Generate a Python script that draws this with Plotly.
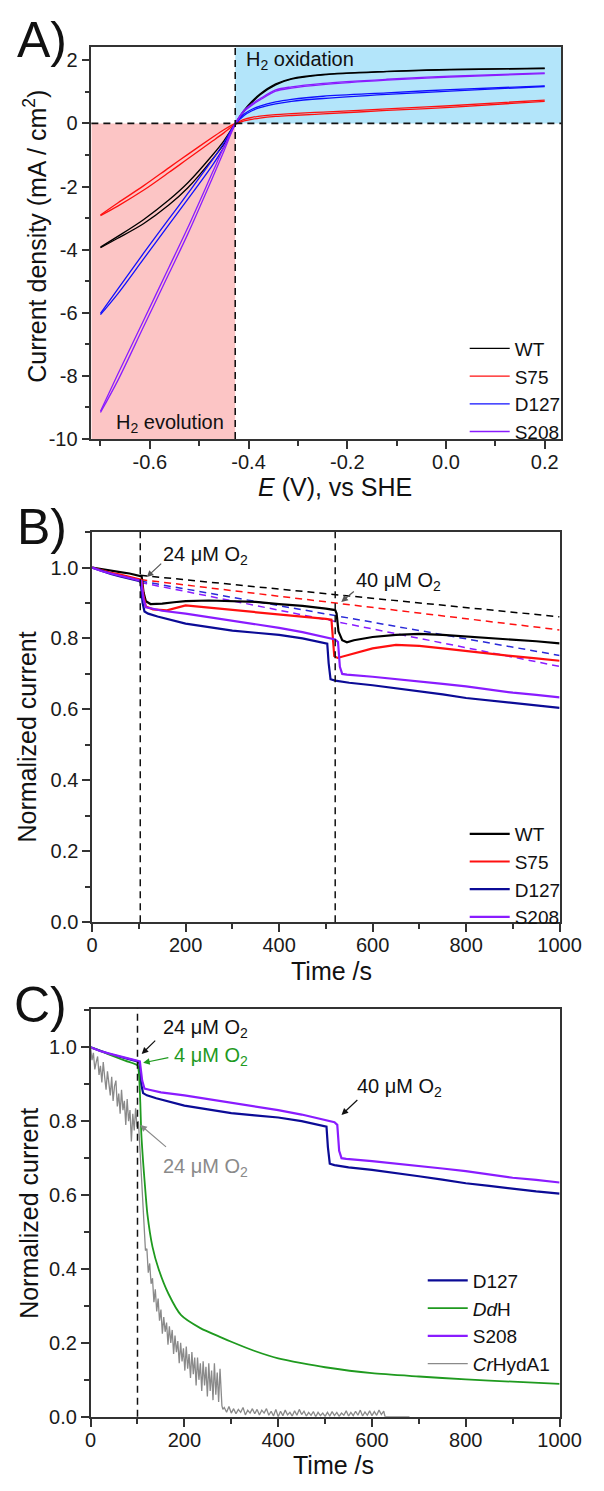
import plotly.graph_objects as go

FONT = "Liberation Sans, Arial, sans-serif"

# ---------------- Panel A: cyclic voltammograms ----------------
E_V = [-0.70, -0.665, -0.613, -0.561, -0.523, -0.473, -0.45, -0.427, -0.409, -0.393,
       -0.377, -0.345, -0.313, -0.249, -0.12, 0.008, 0.20]
WT_UP = [-3.92, -3.58, -3.05, -2.42, -1.88, -1.00, -0.55, 0.0, 0.42, 0.70, 0.93, 1.25, 1.42, 1.55, 1.65, 1.71, 1.75]
WT_LO = [-3.94, -3.64, -3.18, -2.58, -2.04, -1.13, -0.66, -0.03, 0.38, 0.66, 0.90, 1.22, 1.40, 1.54, 1.64, 1.70, 1.74]
S75_UP = [-2.90, -2.52, -1.98, -1.40, -0.98, -0.44, -0.20, 0.0, 0.13, 0.19, 0.23, 0.28, 0.31, 0.36, 0.46, 0.56, 0.74]
S75_LO = [-2.92, -2.62, -2.12, -1.55, -1.12, -0.56, -0.30, -0.03, 0.08, 0.13, 0.17, 0.22, 0.25, 0.30, 0.41, 0.51, 0.70]
D127_UP = [-6.02, -5.25, -4.12, -3.02, -2.22, -1.15, -0.62, 0.0, 0.30, 0.45, 0.55, 0.68, 0.76, 0.86, 0.97, 1.07, 1.19]
D127_LO = [-6.06, -5.40, -4.30, -3.20, -2.40, -1.32, -0.75, -0.03, 0.25, 0.40, 0.50, 0.62, 0.70, 0.79, 0.92, 1.02, 1.17]
S208_UP = [-9.12, -7.95, -6.25, -4.55, -3.30, -1.55, -0.75, 0.0, 0.42, 0.62, 0.78, 1.06, 1.16, 1.27, 1.40, 1.50, 1.60]
S208_LO = [-9.16, -8.15, -6.45, -4.75, -3.50, -1.72, -0.88, -0.03, 0.38, 0.58, 0.74, 1.02, 1.12, 1.23, 1.37, 1.47, 1.58]
E_ZERO = -0.427

A_XTICKS = [-0.6, -0.4, -0.2, 0.0, 0.2]
A_XTEXT = ["-0.6", "-0.4", "-0.2", "0.0", "0.2"]
A_YTICKS = [2, 0, -2, -4, -6, -8, -10]
A_YTEXT = ["2", "0", "-2", "-4", "-6", "-8", "-10"]

# ---------------- Panel B / C: chronoamperometry ----------------
WT_T = [0, 20, 40, 60, 80, 100, 106, 110, 115, 125, 150, 175, 200, 250, 300, 350, 400, 450, 500, 520,
        523, 527, 535, 545, 560, 600, 650, 700, 750, 800, 850, 900, 950, 1000]
WT_I = [1.0, 0.995, 0.99, 0.987, 0.983, 0.978, 0.975, 0.93, 0.905, 0.897, 0.898, 0.902, 0.905, 0.907,
        0.906, 0.903, 0.897, 0.892, 0.884, 0.880, 0.87, 0.82, 0.795, 0.789, 0.795, 0.804, 0.81, 0.813,
        0.81, 0.806, 0.801, 0.797, 0.792, 0.786]
S75_T = [0, 20, 40, 60, 80, 100, 106, 110, 115, 130, 160, 200, 250, 300, 350, 400, 450, 500, 512, 515,
         518, 525, 540, 560, 600, 650, 700, 750, 800, 850, 900, 950, 1000]
S75_I = [1.0, 0.992, 0.985, 0.98, 0.973, 0.968, 0.965, 0.92, 0.89, 0.882, 0.879, 0.893, 0.887, 0.88,
         0.874, 0.868, 0.861, 0.855, 0.853, 0.80, 0.75, 0.745, 0.75, 0.758, 0.772, 0.782, 0.779, 0.772,
         0.764, 0.757, 0.75, 0.744, 0.737]
D127_T = [0, 20, 40, 60, 80, 100, 104, 108, 112, 120, 140, 160, 200, 250, 300, 350, 400, 450, 500, 503,
          506, 510, 520, 550, 600, 650, 700, 750, 800, 850, 900, 950, 1000]
D127_I = [1.0, 0.99, 0.982, 0.975, 0.968, 0.962, 0.958, 0.90, 0.876, 0.87, 0.862, 0.855, 0.842, 0.832,
          0.822, 0.816, 0.81, 0.80, 0.787, 0.785, 0.73, 0.685, 0.681, 0.675, 0.668, 0.66, 0.651, 0.642,
          0.632, 0.625, 0.617, 0.61, 0.604]
S208_T = [0, 20, 40, 60, 80, 100, 105, 110, 115, 125, 150, 200, 250, 300, 350, 400, 450, 500, 520, 526,
          530, 535, 545, 600, 650, 700, 750, 800, 850, 900, 950, 1000]
S208_I = [1.0, 0.99, 0.983, 0.977, 0.97, 0.964, 0.962, 0.91, 0.888, 0.885, 0.878, 0.87, 0.86, 0.851,
          0.841, 0.83, 0.818, 0.803, 0.797, 0.79, 0.72, 0.70, 0.698, 0.692, 0.686, 0.68, 0.672, 0.665,
          0.656, 0.647, 0.641, 0.634]
# linear extrapolations of the pre-O2 decay (dashed)
FIT_T = [103, 1000]
WT_FIT = [0.978, 0.861]
S75_FIT = [0.966, 0.824]
D127_FIT = [0.962, 0.752]
S208_FIT = [0.958, 0.721]
O2_INJ_B = [103, 520]

DDH_T = [0, 25, 50, 75, 100, 103, 106, 108, 112, 115, 121, 132, 145, 166, 193, 234, 278, 300, 350, 400,
         450, 500, 600, 700, 800, 900, 1000]
DDH_I = [1.0, 0.988, 0.975, 0.963, 0.951, 0.93, 0.85, 0.77, 0.69, 0.64, 0.55, 0.46, 0.40, 0.333, 0.275,
         0.24, 0.215, 0.203, 0.178, 0.158, 0.145, 0.134, 0.118, 0.109, 0.101, 0.095, 0.089]

CR_T = [0, 3, 6, 9, 12, 15, 18, 21, 24, 27, 30, 33, 36, 39, 42, 45, 48, 51, 54, 57, 60, 63, 66, 69, 72,
        75, 78, 81, 84, 87, 90, 93, 96, 99, 102, 105, 108, 111, 114, 117, 120, 123, 126, 129, 132, 135,
        138, 141, 144, 147, 150, 153, 156, 159, 162, 165, 168, 171, 174, 177, 180, 183, 186, 189, 192,
        195, 198, 201, 204, 207, 210, 213, 216, 219, 222, 225, 228, 231, 234, 237, 240, 243, 246, 249,
        252, 255, 258, 261, 264, 267, 270, 273, 276, 278, 280, 282,
        285, 290, 295, 300, 305, 310, 315, 320, 325, 330, 335, 340, 345, 350, 355, 360, 365, 370, 375,
        380, 385, 390, 395, 400, 405, 410, 415, 420, 425, 430, 435, 440, 445, 450, 455, 460, 465, 470,
        475, 480, 485, 490, 495, 500, 505, 510, 515, 520, 525, 530, 535, 540, 545, 550, 555, 560, 565,
        570, 575, 580, 585, 590, 595, 600, 605, 610, 615, 620, 625, 628, 680]
CR_I = [1.00, 0.965, 0.985, 0.94, 0.96, 0.975, 0.925, 0.95, 0.905, 0.96, 0.92, 0.885, 0.935, 0.90,
        0.87, 0.92, 0.855, 0.895, 0.91, 0.84, 0.875, 0.82, 0.885, 0.83, 0.855, 0.79, 0.86, 0.80,
        0.83, 0.745, 0.82, 0.775, 0.835, 0.785,
        0.80, 0.73, 0.66, 0.57, 0.53, 0.45, 0.455, 0.39, 0.415, 0.36, 0.375, 0.31, 0.345, 0.285, 0.32,
        0.26, 0.29, 0.225, 0.27, 0.23, 0.255, 0.195, 0.245, 0.20, 0.235, 0.17, 0.22, 0.175, 0.205,
        0.145, 0.20, 0.15, 0.185, 0.125, 0.19, 0.13, 0.17, 0.105, 0.175, 0.115, 0.16, 0.085, 0.16,
        0.10, 0.145, 0.07, 0.15, 0.085, 0.135, 0.055, 0.145, 0.07, 0.125, 0.045, 0.145, 0.06, 0.12,
        0.04, 0.13, 0.06, 0.03, 0.02,
        0.025, 0.012, 0.028, 0.01, 0.022, 0.008, 0.02, 0.012, 0.025, 0.005, 0.018, 0.01, 0.022, 0.008,
        0.02, 0.005, 0.018, 0.01, 0.022, 0.004, 0.015, 0.002, 0.02, 0.0, 0.015, 0.003, 0.018, 0.005,
        0.012, 0.002, 0.016, 0.004, 0.02, 0.006, 0.015, 0.002, 0.012, 0.004, 0.014, 0.0, 0.012, 0.003,
        0.01, 0.001, 0.012, 0.002, 0.014, 0.003, 0.012, 0.001, 0.01, 0.004, 0.016, 0.002, 0.012, 0.003,
        0.015, 0.004, 0.018, 0.002, 0.013, 0.004, 0.016, 0.003, 0.014, 0.004, 0.018, 0.006, 0.015,
        0.0, 0.0]
O2_INJ_C = 100

T_TICKS = [0, 200, 400, 600, 800, 1000]
T_TEXT = ["0", "200", "400", "600", "800", "1000"]
N_TICKS = [0.0, 0.2, 0.4, 0.6, 0.8, 1.0]
N_TEXT = ["0.0", "0.2", "0.4", "0.6", "0.8", "1.0"]

# ---------------- colours ----------------
C_WT = "#000000"
C_S75 = "#ff1010"
C_D127_A = "#1010ff"
C_D127 = "#0b0b96"
C_D127_FIT = "#2a2ad8"
C_S208 = "#8a1cff"
C_DDH = "#1f9a1f"
C_CR = "#8a8a8a"

fig = go.Figure()

# Panel A traces
for name, up, lo, col in [("WT", WT_UP, WT_LO, C_WT), ("S75", S75_UP, S75_LO, C_S75),
                          ("D127", D127_UP, D127_LO, C_D127_A), ("S208", S208_UP, S208_LO, C_S208)]:
    fig.add_trace(go.Scatter(x=E_V, y=up, mode="lines", name=name, legend="legend",
                             line=dict(color=col, width=1.3, shape="spline", smoothing=0.9),
                             xaxis="x", yaxis="y"))
    fig.add_trace(go.Scatter(x=E_V, y=lo, mode="lines", name=name, showlegend=False,
                             line=dict(color=col, width=1.3, shape="spline", smoothing=0.9),
                             xaxis="x", yaxis="y"))

# Panel B dashed fits
for fit, col in [(WT_FIT, C_WT), (S75_FIT, C_S75), (D127_FIT, C_D127_FIT), (S208_FIT, C_S208)]:
    fig.add_trace(go.Scatter(x=FIT_T, y=fit, mode="lines", showlegend=False,
                             line=dict(color=col, width=1.5, dash="7px,5px"), xaxis="x2", yaxis="y2"))
# Panel B traces
for name, t, i, col in [("WT", WT_T, WT_I, C_WT), ("S75", S75_T, S75_I, C_S75),
                        ("D127", D127_T, D127_I, C_D127), ("S208", S208_T, S208_I, C_S208)]:
    fig.add_trace(go.Scatter(x=t, y=i, mode="lines", name=name, legend="legend2",
                             line=dict(color=col, width=2.2), xaxis="x2", yaxis="y2"))

# Panel C traces
fig.add_trace(go.Scatter(x=D127_T, y=D127_I, mode="lines", name="D127", legend="legend3",
                         line=dict(color=C_D127, width=2.2), xaxis="x3", yaxis="y3"))
fig.add_trace(go.Scatter(x=DDH_T, y=DDH_I, mode="lines", name="<i>Dd</i>H", legend="legend3",
                         line=dict(color=C_DDH, width=1.8, shape="spline", smoothing=0.6), xaxis="x3", yaxis="y3"))
fig.add_trace(go.Scatter(x=S208_T, y=S208_I, mode="lines", name="S208", legend="legend3",
                         line=dict(color=C_S208, width=2.2), xaxis="x3", yaxis="y3"))
fig.add_trace(go.Scatter(x=CR_T, y=CR_I, mode="lines", name="<i>Cr</i>HydA1", legend="legend3",
                         line=dict(color=C_CR, width=1.3), xaxis="x3", yaxis="y3"))

W, H = 604, 1491


def px_x(p):
    return p / W


def px_y(p):
    return 1 - p / H


AX_LINE = "#333333"


def axis(domain, rng, tickvals, ticktext, minor_dtick, anchor, standoff=0):
    return dict(domain=domain, range=rng, anchor=anchor, tickmode="array", tickvals=tickvals,
                ticktext=ticktext, showline=True, linecolor=AX_LINE, linewidth=1.5, mirror=True,
                ticks="outside", ticklen=8, tickwidth=1.5, tickcolor=AX_LINE, showgrid=False,
                zeroline=False, tickfont=dict(size=20, color="#1a1a1a", family=FONT),
                ticklabelstandoff=standoff,
                minor=dict(ticks="outside", ticklen=5, tickwidth=1.5, tickcolor=AX_LINE,
                           tickmode="linear", tick0=0, dtick=minor_dtick, showgrid=False))


xa = axis([px_x(89.5), px_x(582.5)], [-0.7185, 0.234], A_XTICKS, A_XTEXT, 0.1, "y", -4)
ya = axis([px_y(442.3), px_y(47.7)], [-10, 2.41], A_YTICKS, A_YTEXT, 1, "x")
xb = axis([px_x(90.3), px_x(580.5)], [0, 1000], T_TICKS, T_TEXT, 100, "y2", -4)
yb = axis([px_y(929), px_y(536)], [0, 1.1], N_TICKS, N_TEXT, 0.1, "x2")
xc = axis([px_x(88.7), px_x(580.5)], [0, 1000], T_TICKS, T_TEXT, 100, "y3", -4)
yc = axis([px_y(1427.3), px_y(1016)], [0, 1.105], N_TICKS, N_TEXT, 0.1, "x3")

shapes = [
    dict(type="rect", xref="x", yref="y", x0=-0.7185, x1=E_ZERO, y0=-10, y1=0,
         fillcolor="#fcc5c5", line=dict(width=0), layer="below"),
    dict(type="rect", xref="x", yref="y", x0=E_ZERO, x1=0.234, y0=0, y1=2.41,
         fillcolor="#b3e5fa", line=dict(width=0), layer="below"),
    dict(type="line", xref="x", yref="y domain", x0=E_ZERO, x1=E_ZERO, y0=0, y1=1,
         line=dict(color="#111", width=1.6, dash="7px,5px")),
    dict(type="line", xref="x domain", yref="y", x0=0, x1=1, y0=0, y1=0,
         line=dict(color="#111", width=1.6, dash="7px,5px")),
]
for t in O2_INJ_B:
    shapes.append(dict(type="line", xref="x2", yref="y2 domain", x0=t, x1=t, y0=0, y1=1,
                       line=dict(color="#111", width=1.5, dash="7px,5px")))
shapes.append(dict(type="line", xref="x3", yref="y3 domain", x0=O2_INJ_C, x1=O2_INJ_C, y0=0, y1=1,
                   line=dict(color="#111", width=1.5, dash="7px,5px")))

ann = []


def txt(text, x, y, xref, yref, size=20, color="#111", angle=0):
    ann.append(dict(text=text, x=x, y=y, xref=xref, yref=yref, showarrow=False,
                    font=dict(size=size, color=color, family=FONT), textangle=angle,
                    xanchor="center", yanchor="middle"))


def arrow(x, y, ax, ay, xr, yr, color="#222"):
    ann.append(dict(text="", x=x, y=y, ax=ax, ay=ay, xref=xr, yref=yr, axref=xr, ayref=yr,
                    showarrow=True, arrowhead=2, arrowsize=1.1, arrowwidth=1.2, arrowcolor=color))


# panel labels
txt("A)", px_x(38), px_y(40), "paper", "paper", size=50)
txt("B)", px_x(38), px_y(531), "paper", "paper", size=50)
txt("C)", px_x(36), px_y(1012), "paper", "paper", size=50)
# axis titles
txt("Current density (mA / cm<sup>2</sup>)", px_x(31), px_y(238), "paper", "paper", size=25, angle=-90)
txt("<i>E</i> (V), vs SHE", px_x(345), px_y(491), "paper", "paper", size=25)
txt("Normalized current", px_x(22), px_y(742), "paper", "paper", size=25, angle=-90)
txt("Time /s", px_x(341), px_y(978), "paper", "paper", size=25)
txt("Normalized current", px_x(24), px_y(1222), "paper", "paper", size=25, angle=-90)
txt("Time /s", px_x(343), px_y(1476), "paper", "paper", size=25)
# panel A region labels
txt("H<sub>2</sub> oxidation", -0.295, 2.0, "x", "y", size=20)
txt("H<sub>2</sub> evolution", -0.559, -9.5, "x", "y", size=20)
# panel B
txt("24 μM O<sub>2</sub>", 242, 1.035, "x2", "y2")
arrow(117, 0.973, 151, 1.015, "x2", "y2", "#555")
txt("40 μM O<sub>2</sub>", 656, 0.96, "x2", "y2")
arrow(533, 0.903, 563, 0.936, "x2", "y2", "#555")
# panel C
txt("24 μM O<sub>2</sub>", 245, 1.05, "x3", "y3")
arrow(109, 0.982, 141, 1.022, "x3", "y3", "#111")
txt("4 μM O<sub>2</sub>", 256, 0.975, "x3", "y3", color=C_DDH)
arrow(112, 0.958, 169, 0.973, "x3", "y3", C_DDH)
txt("40 μM O<sub>2</sub>", 659, 0.89, "x3", "y3")
arrow(535, 0.817, 572, 0.861, "x3", "y3", "#111")
txt("24 μM O<sub>2</sub>", 245, 0.675, "x3", "y3", color=C_CR)
arrow(106, 0.79, 164, 0.727, "x3", "y3", C_CR)

leg = dict(font=dict(size=19, color="#111", family=FONT), bgcolor="rgba(0,0,0,0)", borderwidth=0,
           xanchor="left", yanchor="top", tracegroupgap=0, itemwidth=40)

fig.update_layout(
    width=W, height=H, margin=dict(l=0, r=0, t=0, b=0), autosize=False,
    paper_bgcolor="white", plot_bgcolor="white", font=dict(family=FONT, size=20, color="#111"),
    xaxis=xa, yaxis=ya, xaxis2=xb, yaxis2=yb, xaxis3=xc, yaxis3=yc,
    shapes=shapes, annotations=ann,
    legend=dict(leg, x=px_x(481), y=px_y(332)),
    legend2=dict(leg, x=px_x(481), y=px_y(821)),
    legend3=dict(leg, x=px_x(437), y=px_y(1271)),
)

fig.write_html("out.html", config={"displayModeBar": False},
               post_script="document.documentElement.style.overflow='hidden';"
                           "document.body.style.margin='0';document.body.style.padding='0';"
                           "document.body.style.overflow='hidden';")
